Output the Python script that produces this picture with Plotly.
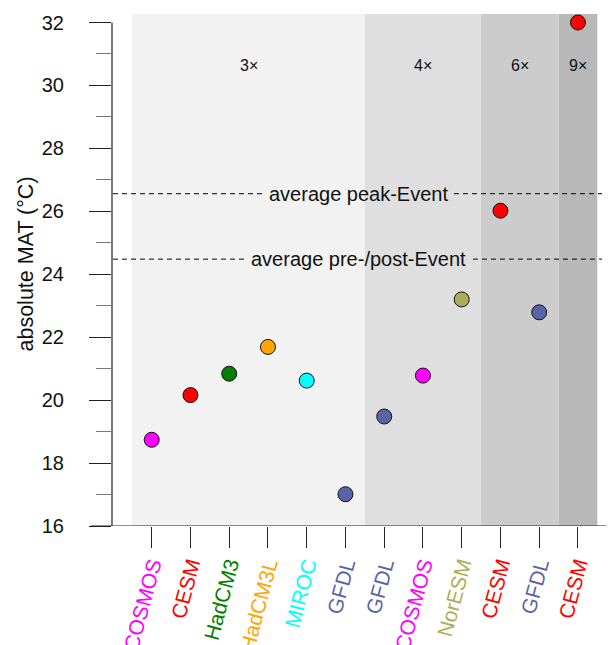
import plotly.graph_objects as go

# ---- data ----
models = ["COSMOS", "CESM", "HadCM3", "HadCM3L", "MIROC", "GFDL",
          "GFDL", "COSMOS", "NorESM", "CESM", "GFDL", "CESM"]
mat = [18.74, 20.16, 20.84, 21.69, 20.62, 17.01,
       19.48, 20.78, 23.20, 26.02, 22.79, 32.0]
co2_group = ["3×"] * 6 + ["4×"] * 3 + ["6×"] * 2 + ["9×"]
model_colors = {
    "COSMOS": "#ff00ff",
    "CESM": "#ff0000",
    "HadCM3": "#007f00",
    "HadCM3L": "#ffa500",
    "MIROC": "#00ffff",
    "GFDL": "#5964a6",
    "NorESM": "#adad55",
}
group_shades = {"3×": "#f2f2f2", "4×": "#dfdfdf", "6×": "#cccccc", "9×": "#b8b8b8"}
avg_peak = 26.56
avg_prepost = 24.48
y_ticks = [16, 18, 20, 22, 24, 26, 28, 30, 32]

xpos = list(range(1, len(models) + 1))
colors = [model_colors[m] for m in models]

fig = go.Figure()

# shaded CO2 groups
shapes = []
annotations = []
groups = []
for i, g in enumerate(co2_group):
    if not groups or groups[-1][0] != g:
        groups.append([g, xpos[i], xpos[i]])
    else:
        groups[-1][2] = xpos[i]
for g, a, b in groups:
    shapes.append(dict(type="rect", xref="x", yref="paper", x0=a - 0.5, x1=b + 0.5,
                       y0=0, y1=1, fillcolor=group_shades[g], line_width=0, layer="below"))
    annotations.append(dict(x=(a + b) / 2, y=30.63, xref="x", yref="y", text=g,
                            showarrow=False, font=dict(size=16, color="#111"),
                            xanchor="center", yanchor="middle"))

# dashed average lines (broken around their labels)
for yv, xl, xr, label in [(avg_peak, 3.86, 8.80, "average peak-Event"),
                          (avg_prepost, 3.38, 9.29, "average pre-/post-Event")]:
    shapes.append(dict(type="line", xref="x", yref="y", x0=0.0, x1=xl, y0=yv, y1=yv,
                       line=dict(color="black", width=1, dash="5px,4px")))
    shapes.append(dict(type="line", xref="x", yref="y", x0=xr, x1=12.62, y0=yv, y1=yv,
                       line=dict(color="black", width=1, dash="5px,4px")))
    annotations.append(dict(x=(xl + xr) / 2, y=yv, xref="x", yref="y", text=label,
                            showarrow=False, font=dict(size=20, color="#111"),
                            xanchor="center", yanchor="middle"))

# y axis line only from 16 to 32
shapes.append(dict(type="line", xref="paper", yref="y", x0=0, x1=0, y0=16, y1=32,
                   line=dict(color="#222", width=1.2)))
# x axis line
shapes.append(dict(type="line", xref="paper", yref="y", x0=-0.042, x1=1, y0=16, y1=16,
                   line=dict(color="#222", width=1.2)))

annotations.append(dict(x=-0.172, y=24.33, xref="paper", yref="y", text="absolute MAT (°C)",
                        textangle=-90, showarrow=False, font=dict(size=21.5, color="#111"),
                        xanchor="center", yanchor="middle"))

fig.add_trace(go.Scatter(
    x=xpos, y=mat, mode="markers",
    marker=dict(size=15, color=colors, line=dict(color="#111", width=1)),
    cliponaxis=False, showlegend=False, hoverinfo="skip"))

ticktext = [f'<span style="color:{model_colors[m]}">{m}</span>' for m in models]

# page body has an 8px margin, so the figure is 8px smaller and margins shifted
fig.update_layout(
    width=606, height=637,
    margin=dict(l=104, r=0, t=6, b=119),
    paper_bgcolor="white", plot_bgcolor="white",
    font=dict(family="Liberation Sans, Arial, sans-serif", color="#111"),
    shapes=shapes, annotations=annotations,
    xaxis=dict(range=[-0.025, 12.93], tickmode="array", tickvals=xpos, ticktext=ticktext,
               tickangle=-75, ticks="outside", ticklen=21, tickcolor="#222", tickwidth=1.2,
               showgrid=False, zeroline=False, showline=False, tickfont=dict(size=21),
               ticklabelstandoff=-4, automargin=False),
    yaxis=dict(range=[16, 32.27], tickmode="array", tickvals=y_ticks,
               ticks="outside", ticklen=22, tickcolor="#222", tickwidth=1.2,
               showgrid=False, zeroline=False, showline=False, tickfont=dict(size=20),
               ticklabelstandoff=21, automargin=False,
               minor=dict(ticks="outside", ticklen=15, tickcolor="#777", tickwidth=1.2,
                          dtick=1, tick0=16, showgrid=False)),
)

fig.write_html("out.html")
